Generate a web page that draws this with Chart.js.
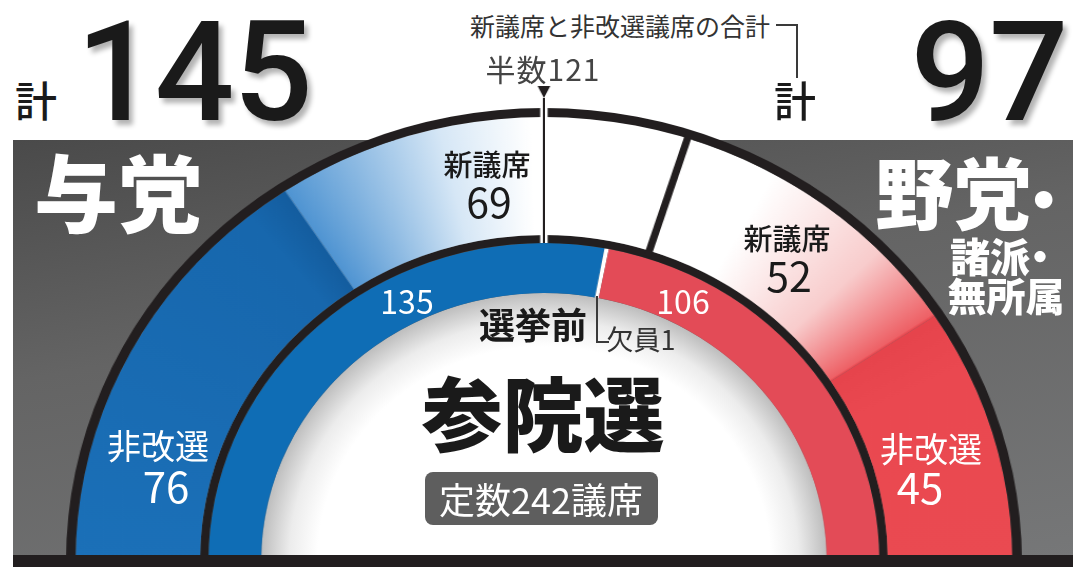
<!DOCTYPE html>
<html lang="ja">
<head>
<meta charset="utf-8">
<title>参院選 定数242議席</title>
<script src="https://cdn.jsdelivr.net/npm/chart.js@4.4.1/dist/chart.umd.min.js"></script>
<style>
html, body { margin: 0; padding: 0; background: #fff; }
body { width: 1079px; height: 573px; overflow: hidden; position: relative;
  font-family: "Noto Sans CJK JP", "Noto Sans", sans-serif; color: #1a1a1a; }
.abs { position: absolute; }
.lbl { position: absolute; transform: translate(-50%, -50%); line-height: 1; white-space: nowrap; }
.big { font-family: Roboto, "Liberation Sans", sans-serif; font-weight: 500; font-size: 140px;
  letter-spacing: -1px; color: #1a1a1a; text-shadow: 4px 5px 5px rgba(0,0,0,0.3); }
.white { color: #fff; }
.heavy { font-weight: 900; }
#panel { left: 13px; top: 140px; width: 1060px; height: 417px; z-index: 0;
  background: linear-gradient(170deg, #4a4a4a 0%, #646464 40%, #767778 100%); }
#holeClip { left: 200px; top: 280px; width: 690px; height: 277px; overflow: hidden; z-index: 1; }
#hole { left: 61px; top: 13px; width: 566px; height: 536px; border-radius: 50%;
  background: radial-gradient(closest-side, #fff 80%, #ececec 90%, #bdbdbd 100%); }
#wrap { left: 66px; top: 78px; transform: scaleX(1.055); transform-origin: 0 0; z-index: 2; }
#bar { left: 13px; top: 555px; width: 1060px; height: 12px; background: #221e1f; z-index: 3; }
#box { left: 425px; top: 472px; width: 233px; height: 53px; border-radius: 8px; background: #5e5e5e; z-index: 3; }
.brk { position: absolute; border-color: #3a3a3a; border-style: solid; border-width: 0; z-index: 4; }
.lbl { z-index: 4; }
</style>
</head>
<body>
<div id="panel" class="abs"></div>
<div id="holeClip" class="abs"><div id="hole" class="abs"></div></div>
<div id="wrap" class="abs"><canvas id="senate" width="906" height="483"></canvas></div>
<div id="bar" class="abs"></div>
<div id="box" class="abs"></div>

<div class="lbl" style="left:36px;top:99px;font-size:42px;font-weight:500">計</div>
<div class="lbl big" id="sumRuling" style="left:194px;top:72px"></div>
<div class="lbl" style="left:795px;top:99px;font-size:42px;font-weight:500">計</div>
<div class="lbl big" id="sumOpp" style="left:989px;top:72px"></div>

<div class="lbl" style="left:620px;top:25px;font-size:25px;color:#333">新議席と非改選議席の合計</div>
<div class="brk" style="left:776px;top:24px;width:20px;height:52px;border-top-width:2px;border-right-width:2px"></div>
<div class="lbl" id="halfLbl" style="left:543px;top:68px;font-size:30px;color:#444;letter-spacing:1px"></div>

<div class="lbl white heavy" style="left:118px;top:190px;font-size:84px">与党</div>
<div class="lbl white heavy" style="left:975px;top:190px;font-size:78px">野党<span style="margin-left:-0.3em;font-size:0.8em">・</span></div>
<div class="lbl white heavy" style="left:1005px;top:255px;font-size:40px">諸派<span style="margin-left:-0.25em">・</span></div>
<div class="lbl white heavy" style="left:1006px;top:294px;font-size:39px">無所属</div>

<div class="lbl" style="left:487px;top:163px;font-size:29px;font-weight:500">新議席</div>
<div class="lbl" id="newRuling" style="left:489px;top:200px;font-size:41px"></div>
<div class="lbl" style="left:787px;top:237px;font-size:29px;font-weight:500">新議席</div>
<div class="lbl" id="newOpp" style="left:789px;top:274px;font-size:41px"></div>

<div class="lbl white" id="beforeRuling" style="left:407px;top:300px;font-size:32px"></div>
<div class="lbl white" id="beforeOpp" style="left:683px;top:300px;font-size:32px"></div>
<div class="lbl" style="left:533px;top:323px;font-size:36px;font-weight:700">選挙前</div>
<div class="brk" style="left:596px;top:296px;width:11px;height:45px;border-left-width:2px;border-bottom-width:2px"></div>
<div class="lbl" id="vacLbl" style="left:641px;top:338px;font-size:27px;color:#333"></div>

<div class="lbl heavy" style="left:543px;top:409px;font-size:81px">参院選</div>
<div class="lbl white" id="totalLbl" style="left:541px;top:498px;font-size:36px"></div>

<div class="lbl white" style="left:158px;top:445px;font-size:34px">非改選</div>
<div class="lbl white" id="holdRuling" style="left:166px;top:485px;font-size:42px"></div>
<div class="lbl white" style="left:931px;top:448px;font-size:34px">非改選</div>
<div class="lbl white" id="holdOpp" style="left:920px;top:486px;font-size:42px"></div>

<script>
// 参院選 議席 (与党 / 野党・諸派・無所属)
const blocs = ['与党', '野党・諸派・無所属'];
const holdover = [76, 45];      // 非改選
const newSeats = [69, 52];      // 新議席
const beforeSeats = [135, 1, 106]; // 選挙前: 与党, 欠員, 野党
const totalSeats = 242;
const majority = 121;

const ink = '#221e1f';
const outerData = [holdover[0], newSeats[0], newSeats[1], holdover[1]];

// text from the data
document.getElementById('sumRuling').textContent = holdover[0] + newSeats[0];
document.getElementById('sumOpp').textContent = holdover[1] + newSeats[1];
document.getElementById('newRuling').textContent = newSeats[0];
document.getElementById('newOpp').textContent = newSeats[1];
document.getElementById('holdRuling').textContent = holdover[0];
document.getElementById('holdOpp').textContent = holdover[1];
document.getElementById('beforeRuling').textContent = beforeSeats[0];
document.getElementById('beforeOpp').textContent = beforeSeats[2];
document.getElementById('vacLbl').textContent = '欠員' + beforeSeats[1];
document.getElementById('halfLbl').textContent = '半数' + majority;
document.getElementById('totalLbl').textContent = '定数' + totalSeats + '議席';

// conic gradient over the outer ring, stops placed at the seat boundaries
function outerFill(context) {
  const chart = context.chart;
  const area = chart.chartArea;
  if (!area) return '#1a6fb6';
  const cx = (area.left + area.right) / 2;
  const cy = area.bottom;
  const g = chart.ctx.createConicGradient(Math.PI, cx, cy);
  const b1 = outerData[0] / totalSeats;
  const b2 = (outerData[0] + outerData[1]) / totalSeats;
  const b3 = (outerData[0] + outerData[1] + outerData[2]) / totalSeats;
  const t = f => f / 2;
  g.addColorStop(0, '#1b70b8');
  g.addColorStop(t(b1 - 0.03), '#1767ad');
  g.addColorStop(t(b1 - 0.001), '#145d9f');
  g.addColorStop(t(b1), '#4f94d2');
  g.addColorStop(t(b1 + 0.4 * (b2 - b1)), '#d6e7f6');
  g.addColorStop(t(b1 + 0.62 * (b2 - b1)), '#ffffff');
  g.addColorStop(t(b2 + 0.3 * (b3 - b2)), '#ffffff');
  g.addColorStop(t(b2 + 0.72 * (b3 - b2)), '#f8cccc');
  g.addColorStop(t(b3 - 0.002), '#ee6166');
  g.addColorStop(t(b3), '#e6444c');
  g.addColorStop(t(b3 + 0.04), '#ea4850');
  g.addColorStop(0.5, '#ea4a51');
  g.addColorStop(1, '#ea4a51');
  return g;
}

const markers = {
  id: 'markers',
  afterDatasetsDraw(chart) {
    const ctx = chart.ctx;
    const rim = chart.getDatasetMeta(0).data[0];
    const ring = chart.getDatasetMeta(1).data;
    const mid = chart.getDatasetMeta(2).data[0];
    const cx = rim.x, cy = rim.y;
    const pt = (a, r) => [cx + Math.cos(a) * r, cy + Math.sin(a) * r];

    ctx.save();
    // divider between the two blocs in the outer ring
    const a = ring[1].endAngle;
    ctx.strokeStyle = ink;
    ctx.lineWidth = 7;
    ctx.beginPath();
    ctx.moveTo(...pt(a, mid.innerRadius + 2));
    ctx.lineTo(...pt(a, rim.outerRadius - 1));
    ctx.stroke();

    // 半数 line
    const h = rim.startAngle + (rim.endAngle - rim.startAngle) * majority / totalSeats;
    ctx.strokeStyle = '#fff';
    ctx.lineWidth = 7;
    ctx.beginPath();
    ctx.moveTo(...pt(h, mid.innerRadius));
    ctx.lineTo(...pt(h, rim.outerRadius));
    ctx.stroke();
    ctx.strokeStyle = ink;
    ctx.lineWidth = 2;
    ctx.beginPath();
    ctx.moveTo(...pt(h, mid.innerRadius));
    ctx.lineTo(...pt(h, rim.outerRadius + 10));
    ctx.stroke();
    const tip = pt(h, rim.outerRadius + 10);
    const base = pt(h, rim.outerRadius + 22);
    const nx = -Math.sin(h) * 6, ny = Math.cos(h) * 6;
    ctx.fillStyle = ink;
    ctx.beginPath();
    ctx.moveTo(tip[0], tip[1]);
    ctx.lineTo(base[0] + nx, base[1] + ny);
    ctx.lineTo(base[0] - nx, base[1] - ny);
    ctx.closePath();
    ctx.fill();
    ctx.restore();
  }
};

const senate = document.getElementById('senate');

new Chart(senate, {
  type: 'doughnut',
  data: {
    labels: ['非改選 与党', '新議席 与党', '新議席 野党', '非改選 野党'],
    datasets: [
      { label: 'rim', data: [totalSeats], backgroundColor: ink, borderWidth: 0, weight: 9 },
      { label: '改選後', data: outerData, backgroundColor: outerFill, borderWidth: 0, weight: 118 },
      { label: 'mid', data: [totalSeats], backgroundColor: ink, borderWidth: 0, weight: 8 },
      { label: '選挙前', data: beforeSeats, backgroundColor: ['#0f6db5', '#ffffff', '#e34b57'], borderWidth: 0, weight: 50 },
    ]
  },
  options: {
    responsive: false,
    animation: false,
    rotation: -90,
    circumference: 180,
    cutout: (268 / 453 * 100) + '%',
    layout: { padding: { top: 30 } },
    events: [],
    plugins: {
      legend: { display: false },
      tooltip: { enabled: false },
    },
  },
  plugins: [markers]
});
</script>
</body>
</html>
